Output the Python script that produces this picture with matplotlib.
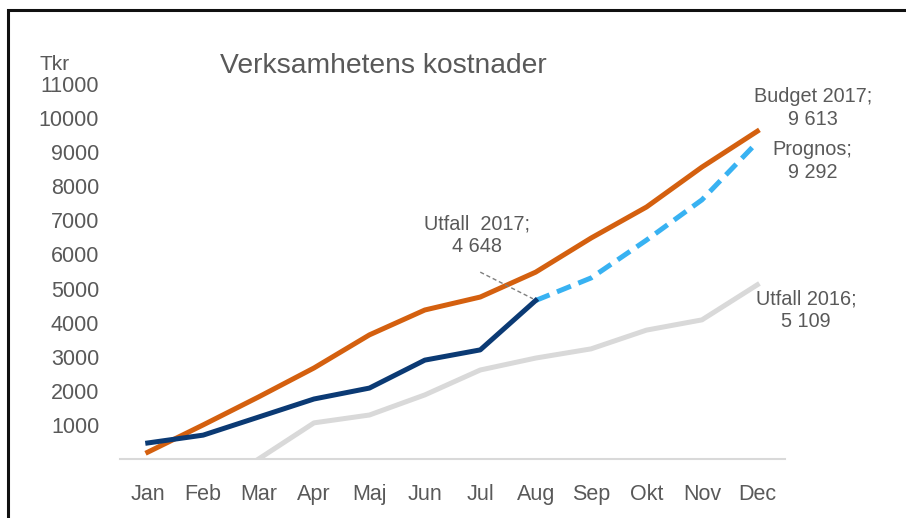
import numpy as np
import matplotlib
matplotlib.use('Agg')
import matplotlib.pyplot as plt
from matplotlib.patches import Rectangle

# ── Data ────────────────────────────────────────────────────
months      = ['Jan', 'Feb', 'Mar', 'Apr', 'Maj', 'Jun',
               'Jul', 'Aug', 'Sep', 'Okt', 'Nov', 'Dec']
budget_2017 = [200, 1000, 1820, 2670, 3640, 4370, 4750, 5480, 6480, 7390, 8560, 9613]
utfall_2017 = [470, 700, 1230, 1760, 2080, 2900, 3200, 4648,
               None, None, None, None]
prognos     = [None, None, None, None, None, None, None, 4648, 5310, 6420, 7600, 9292]
utfall_2016 = [None, None, 0, 1060, 1290, 1880, 2610, 2960, 3230, 3780, 4080, 5109]
yticks      = [1000, 2000, 3000, 4000, 5000, 6000, 7000, 8000, 9000, 10000, 11000]
# ────────────────────────────────────────────────────────────

ORANGE = '#D4600F'
NAVY   = '#0B3A74'
LBLUE  = '#38B2F2'
LGRAY  = '#D9D9D9'
TEXT   = '#595959'

plt.rcParams['font.family'] = ['Liberation Sans', 'DejaVu Sans']


def arr(v):
    return np.array([np.nan if x is None else x for x in v], dtype=float)


x = np.arange(len(months))

fig = plt.figure(figsize=(9.06, 5.18), dpi=100, facecolor='white')
ax = fig.add_axes([0.1325, 0.1139, 0.734, 0.7241])

lw = 3.6
ax.plot(x, arr(utfall_2016), color=LGRAY, linewidth=lw, zorder=2)
ax.plot(x, arr(budget_2017), color=ORANGE, linewidth=lw, zorder=3)
ax.plot(x, arr(prognos), color=LBLUE, linewidth=lw, zorder=3,
        linestyle='--', dashes=(3, 1.6))
ax.plot(x, arr(utfall_2017), color=NAVY, linewidth=lw, zorder=4)

ax.set_xlim(-0.5, 11.5)
ax.set_ylim(0, 11000)
ax.set_xticks(x)
ax.set_xticklabels(months, color=TEXT, fontsize=15.5)
ax.set_yticks(yticks)
ax.set_yticklabels([str(v) for v in yticks], color=TEXT, fontsize=15.5)
ax.tick_params(axis='both', length=0)
ax.tick_params(axis='x', pad=18)
ax.tick_params(axis='y', pad=15)
for side in ('left', 'right', 'top'):
    ax.spines[side].set_visible(False)
ax.spines['bottom'].set_color(LGRAY)
ax.spines['bottom'].set_linewidth(1.5)

# labels at series endpoints
lab = dict(ha='center', va='center', color=TEXT, fontsize=14.3,
           linespacing=1.25, clip_on=False)
ax.text(12.01, 10290, 'Budget 2017;\n9 613', **lab)
ax.text(12.0, 8740, 'Prognos;\n9 292', **lab)
ax.text(11.88, 4370, 'Utfall 2016;\n5 109', **lab)
ax.text(5.95, 6570, 'Utfall  2017;\n4 648', **lab)
ax.plot([6.0, 6.95], [5480, 4700], color='#7F7F7F', linewidth=1.0,
        linestyle='--', dashes=(3, 2), zorder=5)

fig.text(0.044, 0.876, 'Tkr', color=TEXT, fontsize=15, ha='left', va='center')
fig.text(0.243, 0.872, 'Verksamhetens kostnader', color=TEXT, fontsize=20.3,
         ha='left', va='center')

# outer frame (cut off on right/bottom like the screenshot)
fig.add_artist(Rectangle((0.0088, -0.05), 1.2, 1.031,
                         transform=fig.transFigure, fill=False,
                         edgecolor='#111111', linewidth=2.2))

fig.savefig('out.png', dpi=100, facecolor='white')
